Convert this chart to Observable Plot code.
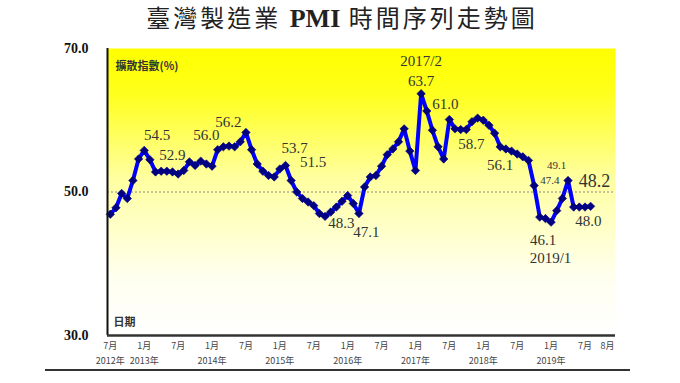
<!DOCTYPE html>
<html><head><meta charset="utf-8">
<script src="https://cdn.jsdelivr.net/npm/d3@7"></script>
<script src="https://cdn.jsdelivr.net/npm/@observablehq/plot@0.6"></script>
<style>
body{margin:0;background:#fff;width:680px;height:383px;overflow:hidden}
#title{height:36px;line-height:34px;text-align:center;font-family:"Noto Sans CJK TC";font-size:24px;letter-spacing:3px;color:#222;padding-left:4px;white-space:nowrap}
#title b{font-family:"Liberation Serif";font-weight:bold;font-size:26px;letter-spacing:0}
#rule{margin-left:45px;width:585px;border-top:2px solid #333}
#chart svg{display:block}
</style></head><body>
<div id="title">臺灣製造業 <b>PMI</b> 時間序列走勢圖</div>
<div id="chart"></div>
<div id="rule"></div>
<script>
// Monthly Taiwan manufacturing PMI, 2012/7 .. 2019/8
const pmiValues = [
  46.9, 47.8, 49.8, 49.1, 51.6, 54.6,            // 2012/7-12
  55.8, 54.5, 52.8, 52.9, 52.9, 52.8, 52.5, 53.0, 54.2, 53.7, 54.3, 53.9, // 2013
  53.6, 55.9, 56.3, 56.4, 56.3, 57.0, 58.3, 55.9, 53.9, 52.9, 52.3, 52.1, // 2014
  53.2, 53.7, 51.6, 50.0, 49.1, 48.6, 48.1, 47.0, 46.6, 47.2, 47.9, 48.7, // 2015
  49.5, 48.4, 47.0, 50.7, 52.1, 52.3, 53.6, 55.2, 56.0, 57.0, 58.8, 55.7, // 2016
  53.0, 63.7, 61.3, 58.6, 56.3, 54.6, 60.1, 58.8, 58.7, 58.7, 59.8, 60.3, // 2017
  60.0, 59.3, 58.2, 56.3, 56.0, 55.7, 55.3, 54.9, 54.4, 50.9, 46.5, 46.3, // 2018
  45.8, 47.4, 49.1, 51.6, 47.9, 47.9, 47.9, 48.0                          // 2019/1-8
];
const monthIndex = pmiValues.map((v, i) => i); // 0 = 2012/7

// x-axis tick labels (month index, month label, year label)
const tickIdx    = [0, 6, 12, 18, 24, 30, 36, 42, 48, 54, 60, 66, 72, 78, 84, 88];
const tickMonth  = ["7月","1月","7月","1月","7月","1月","7月","1月","7月","1月","7月","1月","7月","1月","7月","8月"];
const tickYear   = ["2012年","2013年","","2014年","","2015年","","2016年","","2017年","","2018年","","2019年","",""];
const yTicks = [30, 50, 70];

// value annotations (text, month index, value position)
const annoText  = ["54.5","52.9","56.0","56.2","53.7","51.5","2017/2","63.7","61.0","58.7","56.1","48.0","46.1","2019/1","48.3","47.1"];
const annoMonth = [8.3, 11.0, 17.0, 20.9, 32.6, 35.9, 55.0, 55.0, 59.3, 63.9, 69.0, 84.6, 76.6, 77.9, 40.9, 45.3];
const annoValue = [57.9, 55.1, 57.9, 59.7, 56.1, 54.1, 68.2, 65.4, 62.3, 56.6, 53.8, 46.0, 43.3, 40.8, 45.6, 44.4];
const smallText  = ["49.1", "47.4"];
const smallMonth = [79.0, 77.8];
const smallValue = [53.7, 51.6];
const bigText  = ["48.2"];
const bigMonth = [85.7];
const bigValue = [51.5];

const data = pmiValues.map((v, i) => ({i: monthIndex[i], v}));
const ticks = tickIdx.map((t, k) => ({t, m: tickMonth[k], y: tickYear[k]}));
const anno = annoText.map((t, k) => ({t, x: annoMonth[k], y: annoValue[k]}));
const annoS = smallText.map((t, k) => ({t, x: smallMonth[k], y: smallValue[k]}));
const annoB = bigText.map((t, k) => ({t, x: bigMonth[k], y: bigValue[k]}));

const defs = () => {
  const g = d3.create("svg:defs");
  const lg = g.append("linearGradient").attr("id", "bg").attr("x1", 0).attr("y1", 0).attr("x2", 0).attr("y2", 1);
  [[0, "#ffff00"], [0.15, "#ffff1a"], [0.45, "#ffffa0"], [0.8, "#fffff0"], [1, "#ffffff"]]
    .forEach(([o, c]) => lg.append("stop").attr("offset", o).attr("stop-color", c));
  return g.node();
};

const serif = "Liberation Serif, Times New Roman, serif";
const chart = Plot.plot({
  width: 680, height: 333,
  marginLeft: 107, marginRight: 65, marginTop: 12, marginBottom: 34,
  x: {domain: [-0.5, 89.4], axis: null},
  y: {domain: [30, 70], axis: null},
  style: {fontFamily: "Noto Sans CJK TC", background: "transparent", overflow: "visible"},
  marks: [
    defs,
    Plot.frame({fill: "url(#bg)"}),
    Plot.ruleY([50], {stroke: "#8a8a8a", strokeDasharray: "2,2", strokeWidth: 1}),
    Plot.line(data, {x: "i", y: "v", stroke: "#0000ff", strokeWidth: 4, strokeLinejoin: "round"}),
    Plot.dot(data, {x: "i", y: "v", symbol: "diamond2", r: 3.8, fill: "#000080", stroke: "#000080", strokeWidth: 0.6}),
    Plot.ruleX([-0.5], {stroke: "#111", strokeWidth: 2}),
    Plot.ruleY([30], {stroke: "#333", strokeWidth: 2.5}),
    Plot.axisY(yTicks, {tickSize: 0, tickPadding: 19, tickFormat: d => d.toFixed(1), fontSize: 14, fontWeight: "bold", fontFamily: serif, fill: "#111"}),
    Plot.text(ticks, {x: "t", text: "m", frameAnchor: "bottom", dy: 13, fontSize: 9, fill: "#444"}),
    Plot.text(ticks, {x: "t", text: "y", frameAnchor: "bottom", dy: 28, fontSize: 9, fill: "#444"}),
    Plot.text(["擴散指數(%)"], {frameAnchor: "top-left", text: d => d, dx: 8, dy: 14, fontSize: 11, fontWeight: "bold", fill: "#333", textAnchor: "start"}),
    Plot.text(["日期"], {frameAnchor: "bottom-left", text: d => d, dx: 6, dy: -10, fontSize: 11, fontWeight: "bold", fill: "#333", textAnchor: "start"}),
    Plot.text(anno, {x: "x", y: "y", text: "t", fontSize: 15, fontFamily: serif, fill: "#333"}),
    Plot.text(annoS, {x: "x", y: "y", text: "t", fontSize: 11, fontFamily: serif, fill: "#333"}),
    Plot.text(annoB, {x: "x", y: "y", text: "t", fontSize: 18, fontFamily: serif, fill: "#333"})
  ]
});
document.getElementById("chart").appendChild(chart);
</script>
</body></html>
